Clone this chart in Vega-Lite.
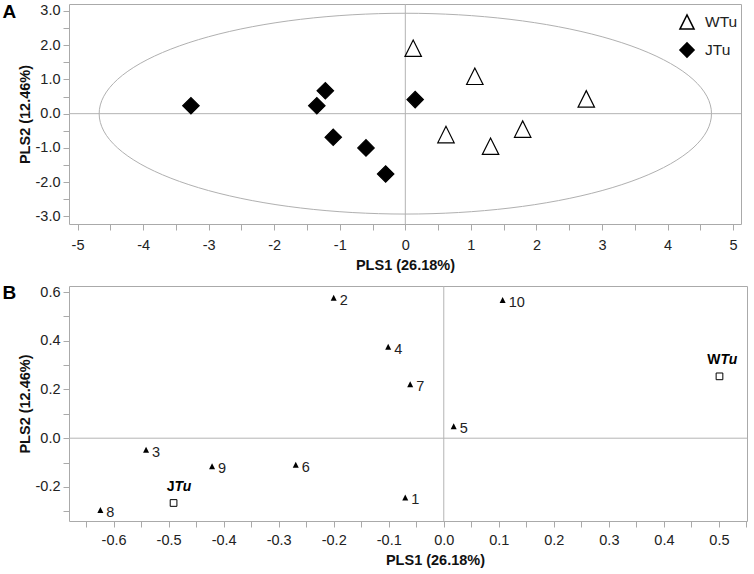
{
  "$schema": "https://vega.github.io/schema/vega-lite/v6.json",
  "background": "white",
  "padding": {"left": 2, "top": 2, "right": 2, "bottom": 2},
  "spacing": 10,
  "config": {
    "font": "Liberation Sans",
    "view": {"stroke": "#aaaaaa", "strokeWidth": 1},
    "axis": {
      "domain": false, "grid": false, "tickColor": "#aaaaaa", "tickSize": 6,
      "labelFont": "Liberation Sans", "labelFontSize": 14.5, "labelColor": "#222222",
      "titleFont": "Liberation Sans", "titleFontSize": 14.5, "titleFontWeight": "bold", "titleColor": "#111111",
      "labelOverlap": false, "labelFlush": false
    }
  },
  "vconcat": [
    {
      "width": 672,
      "height": 220,
      "title": {"text": "A", "orient": "left", "anchor": "end", "angle": 0, "align": "right", "baseline": "top", "fontSize": 19, "fontWeight": "bold", "font": "Liberation Sans", "offset": -13, "color": "black"},
      "layer": [
        {
          "data": {"values": [{}]},
          "mark": {"type": "rule", "color": "#b4b4b4", "strokeWidth": 1},
          "encoding": {"x": {"datum": 0, "type": "quantitative", "scale": {"domain": [-5.13, 5.12], "nice": false, "zero": false}}}
        },
        {
          "data": {"values": [{}]},
          "mark": {"type": "rule", "color": "#b4b4b4", "strokeWidth": 1},
          "encoding": {"y": {"datum": 0, "type": "quantitative", "scale": {"domain": [-3.22, 3.2], "nice": false, "zero": false}}}
        },
        {
          "data": {"values": [
            {"i": 0, "x": 4.67, "y": 0}, {"i": 1, "x": 4.599, "y": 0.509}, {"i": 2, "x": 4.388, "y": 1.002},
            {"i": 3, "x": 4.044, "y": 1.465}, {"i": 4, "x": 3.577, "y": 1.883}, {"i": 5, "x": 3.002, "y": 2.244},
            {"i": 6, "x": 2.335, "y": 2.537}, {"i": 7, "x": 1.597, "y": 2.753}, {"i": 8, "x": 0.811, "y": 2.885},
            {"i": 9, "x": 0, "y": 2.93}, {"i": 10, "x": -0.811, "y": 2.885}, {"i": 11, "x": -1.597, "y": 2.753},
            {"i": 12, "x": -2.335, "y": 2.537}, {"i": 13, "x": -3.002, "y": 2.244}, {"i": 14, "x": -3.577, "y": 1.883},
            {"i": 15, "x": -4.044, "y": 1.465}, {"i": 16, "x": -4.388, "y": 1.002}, {"i": 17, "x": -4.599, "y": 0.509},
            {"i": 18, "x": -4.67, "y": 0}, {"i": 19, "x": -4.599, "y": -0.509}, {"i": 20, "x": -4.388, "y": -1.002},
            {"i": 21, "x": -4.044, "y": -1.465}, {"i": 22, "x": -3.577, "y": -1.883}, {"i": 23, "x": -3.002, "y": -2.244},
            {"i": 24, "x": -2.335, "y": -2.537}, {"i": 25, "x": -1.597, "y": -2.753}, {"i": 26, "x": -0.811, "y": -2.885},
            {"i": 27, "x": 0, "y": -2.93}, {"i": 28, "x": 0.811, "y": -2.885}, {"i": 29, "x": 1.597, "y": -2.753},
            {"i": 30, "x": 2.335, "y": -2.537}, {"i": 31, "x": 3.002, "y": -2.244}, {"i": 32, "x": 3.577, "y": -1.883},
            {"i": 33, "x": 4.044, "y": -1.465}, {"i": 34, "x": 4.388, "y": -1.002}, {"i": 35, "x": 4.599, "y": -0.509}
          ]},
          "mark": {"type": "line", "interpolate": "cardinal-closed", "color": "#b0b0b0", "strokeWidth": 1},
          "encoding": {
            "x": {"field": "x", "type": "quantitative", "scale": {"domain": [-5.13, 5.12], "nice": false, "zero": false}},
            "y": {"field": "y", "type": "quantitative", "scale": {"domain": [-3.22, 3.2], "nice": false, "zero": false}},
            "order": {"field": "i", "type": "quantitative"}
          }
        },
        {
          "data": {"values": [
            {"group": "JTu", "x": -3.27, "y": 0.23},
            {"group": "JTu", "x": -1.35, "y": 0.23},
            {"group": "JTu", "x": -1.22, "y": 0.67},
            {"group": "JTu", "x": -1.10, "y": -0.69},
            {"group": "JTu", "x": -0.60, "y": -1.0},
            {"group": "JTu", "x": -0.30, "y": -1.76},
            {"group": "JTu", "x": 0.15, "y": 0.41},
            {"group": "WTu", "x": 0.12, "y": 1.91},
            {"group": "WTu", "x": 1.06, "y": 1.09},
            {"group": "WTu", "x": 2.76, "y": 0.43},
            {"group": "WTu", "x": 0.62, "y": -0.61},
            {"group": "WTu", "x": 1.79, "y": -0.45},
            {"group": "WTu", "x": 1.30, "y": -0.95}
          ]},
          "mark": {"type": "point", "filled": true, "opacity": 1, "stroke": "black", "strokeWidth": 1.2, "size": 270},
          "encoding": {
            "x": {"field": "x", "type": "quantitative", "scale": {"domain": [-5.13, 5.12], "nice": false, "zero": false},
              "axis": {"title": "PLS1 (26.18%)", "tickCount": 100, "values": [-5, -4.5, -4, -3.5, -3, -2.5, -2, -1.5, -1, -0.5, 0, 0.5, 1, 1.5, 2, 2.5, 3, 3.5, 4, 4.5, 5],
                "labelExpr": "datum.value % 1 === 0 ? '' + datum.value : ''", "labelOverlap": false, "labelPadding": 8, "titlePadding": 7}},
            "y": {"field": "y", "type": "quantitative", "scale": {"domain": [-3.22, 3.2], "nice": false, "zero": false},
              "axis": {"title": "PLS2 (12.46%)", "tickCount": 100, "values": [-3, -2.5, -2, -1.5, -1, -0.5, 0, 0.5, 1, 1.5, 2, 2.5, 3],
                "labelExpr": "datum.value % 1 === 0 ? replace(format(datum.value, '.1f'), '\u2212', '-') : ''", "labelOverlap": false, "labelPadding": 3, "titlePadding": 3}},
            "shape": {"field": "group", "type": "nominal", "scale": {"domain": ["WTu", "JTu"], "range": ["M-1,1L1,1L0,-1Z", "diamond"]},
              "legend": {"title": null, "orient": "none", "legendX": 608, "legendY": 8, "padding": 2, "labelFont": "Liberation Sans", "labelFontSize": 15.5, "labelColor": "#222222", "symbolSize": 200, "rowPadding": 6, "labelOffset": 10,
                "encode": {"symbols": {"update": {"stroke": {"value": "black"}, "strokeWidth": {"value": 1.2}}}}}},
            "fill": {"field": "group", "type": "nominal", "scale": {"domain": ["WTu", "JTu"], "range": ["white", "black"]},
              "legend": {"title": null, "orient": "none", "legendX": 608, "legendY": 8, "padding": 2, "labelFont": "Liberation Sans", "labelFontSize": 15.5, "labelColor": "#222222", "symbolSize": 200, "rowPadding": 6, "labelOffset": 10,
                "encode": {"symbols": {"update": {"stroke": {"value": "black"}, "strokeWidth": {"value": 1.2}}}}}}
          }
        }
      ]
    },
    {
      "width": 678,
      "height": 235,
      "title": {"text": "B", "orient": "left", "anchor": "end", "angle": 0, "align": "right", "baseline": "top", "fontSize": 19, "fontWeight": "bold", "font": "Liberation Sans", "offset": -13, "color": "black"},
      "layer": [
        {
          "data": {"values": [{}]},
          "mark": {"type": "rule", "color": "#b4b4b4", "strokeWidth": 1},
          "encoding": {"x": {"datum": 0, "type": "quantitative", "scale": {"domain": [-0.681, 0.551], "nice": false, "zero": false}}}
        },
        {
          "data": {"values": [{}]},
          "mark": {"type": "rule", "color": "#b4b4b4", "strokeWidth": 1},
          "encoding": {"y": {"datum": 0, "type": "quantitative", "scale": {"domain": [-0.34, 0.625], "nice": false, "zero": false}}}
        },
        {
          "data": {"values": [
            {"id": "1", "x": -0.070, "y": -0.243},
            {"id": "2", "x": -0.200, "y": 0.577},
            {"id": "3", "x": -0.541, "y": -0.047},
            {"id": "4", "x": -0.101, "y": 0.376},
            {"id": "5", "x": 0.018, "y": 0.049},
            {"id": "6", "x": -0.269, "y": -0.109},
            {"id": "7", "x": -0.061, "y": 0.222},
            {"id": "8", "x": -0.624, "y": -0.295},
            {"id": "9", "x": -0.421, "y": -0.115},
            {"id": "10", "x": 0.107, "y": 0.567}
          ]},
          "layer": [
            {
              "mark": {"type": "point", "filled": true, "opacity": 1, "color": "black", "shape": "M-1,1L1,1L0,-1Z", "size": 36},
              "encoding": {
                "x": {"field": "x", "type": "quantitative", "scale": {"domain": [-0.681, 0.551], "nice": false, "zero": false},
                  "axis": {"title": "PLS1 (26.18%)", "titleX": 366, "tickCount": 100,
                    "values": [-0.65, -0.6, -0.55, -0.5, -0.45, -0.4, -0.35, -0.3, -0.25, -0.2, -0.15, -0.1, -0.05, 0, 0.05, 0.1, 0.15, 0.2, 0.25, 0.3, 0.35, 0.4, 0.45, 0.5, 0.55],
                    "labelExpr": "abs(round(datum.value * 20)) % 2 === 0 ? replace(format(datum.value, '.1f'), '\u2212', '-') : ''", "labelOverlap": false, "labelPadding": 6, "titlePadding": 7}},
                "y": {"field": "y", "type": "quantitative", "scale": {"domain": [-0.34, 0.625], "nice": false, "zero": false},
                  "axis": {"title": "PLS2 (12.46%)", "tickCount": 100, "values": [-0.3, -0.2, -0.1, 0, 0.1, 0.2, 0.3, 0.4, 0.5, 0.6],
                    "labelExpr": "abs(round(datum.value * 10)) % 2 === 0 ? replace(format(datum.value, '.1f'), '\u2212', '-') : ''", "labelOverlap": false, "labelPadding": 3, "titlePadding": 3}}
              }
            },
            {
              "mark": {"type": "text", "align": "left", "baseline": "middle", "dx": 6, "dy": 3, "fontSize": 14.5, "font": "Liberation Sans", "color": "#222222"},
              "encoding": {
                "x": {"field": "x", "type": "quantitative", "scale": {"domain": [-0.681, 0.551], "nice": false, "zero": false}},
                "y": {"field": "y", "type": "quantitative", "scale": {"domain": [-0.34, 0.625], "nice": false, "zero": false}},
                "text": {"field": "id"}
              }
            }
          ]
        },
        {
          "data": {"values": [
            {"group": "JTu", "pre": "J", "suf": "Tu", "x": -0.491, "y": -0.266},
            {"group": "WTu", "pre": "W", "suf": "Tu", "x": 0.501, "y": 0.254}
          ]},
          "layer": [
            {
              "mark": {"type": "point", "shape": "square", "size": 45, "filled": true, "fill": "white", "stroke": "black", "strokeWidth": 1, "opacity": 1},
              "encoding": {
                "x": {"field": "x", "type": "quantitative", "scale": {"domain": [-0.681, 0.551], "nice": false, "zero": false}},
                "y": {"field": "y", "type": "quantitative", "scale": {"domain": [-0.34, 0.625], "nice": false, "zero": false}}
              }
            },
            {
              "mark": {"type": "text", "align": "right", "baseline": "alphabetic", "dx": 1, "dy": -12, "fontSize": 14, "fontWeight": "bold", "font": "Liberation Sans", "color": "black"},
              "encoding": {
                "x": {"field": "x", "type": "quantitative", "scale": {"domain": [-0.681, 0.551], "nice": false, "zero": false}},
                "y": {"field": "y", "type": "quantitative", "scale": {"domain": [-0.34, 0.625], "nice": false, "zero": false}},
                "text": {"field": "pre"}
              }
            },
            {
              "mark": {"type": "text", "align": "left", "baseline": "alphabetic", "dx": 1, "dy": -12, "fontSize": 14, "fontWeight": "bold", "fontStyle": "italic", "font": "Liberation Sans", "color": "black"},
              "encoding": {
                "x": {"field": "x", "type": "quantitative", "scale": {"domain": [-0.681, 0.551], "nice": false, "zero": false}},
                "y": {"field": "y", "type": "quantitative", "scale": {"domain": [-0.34, 0.625], "nice": false, "zero": false}},
                "text": {"field": "suf"}
              }
            }
          ]
        }
      ]
    }
  ]
}
